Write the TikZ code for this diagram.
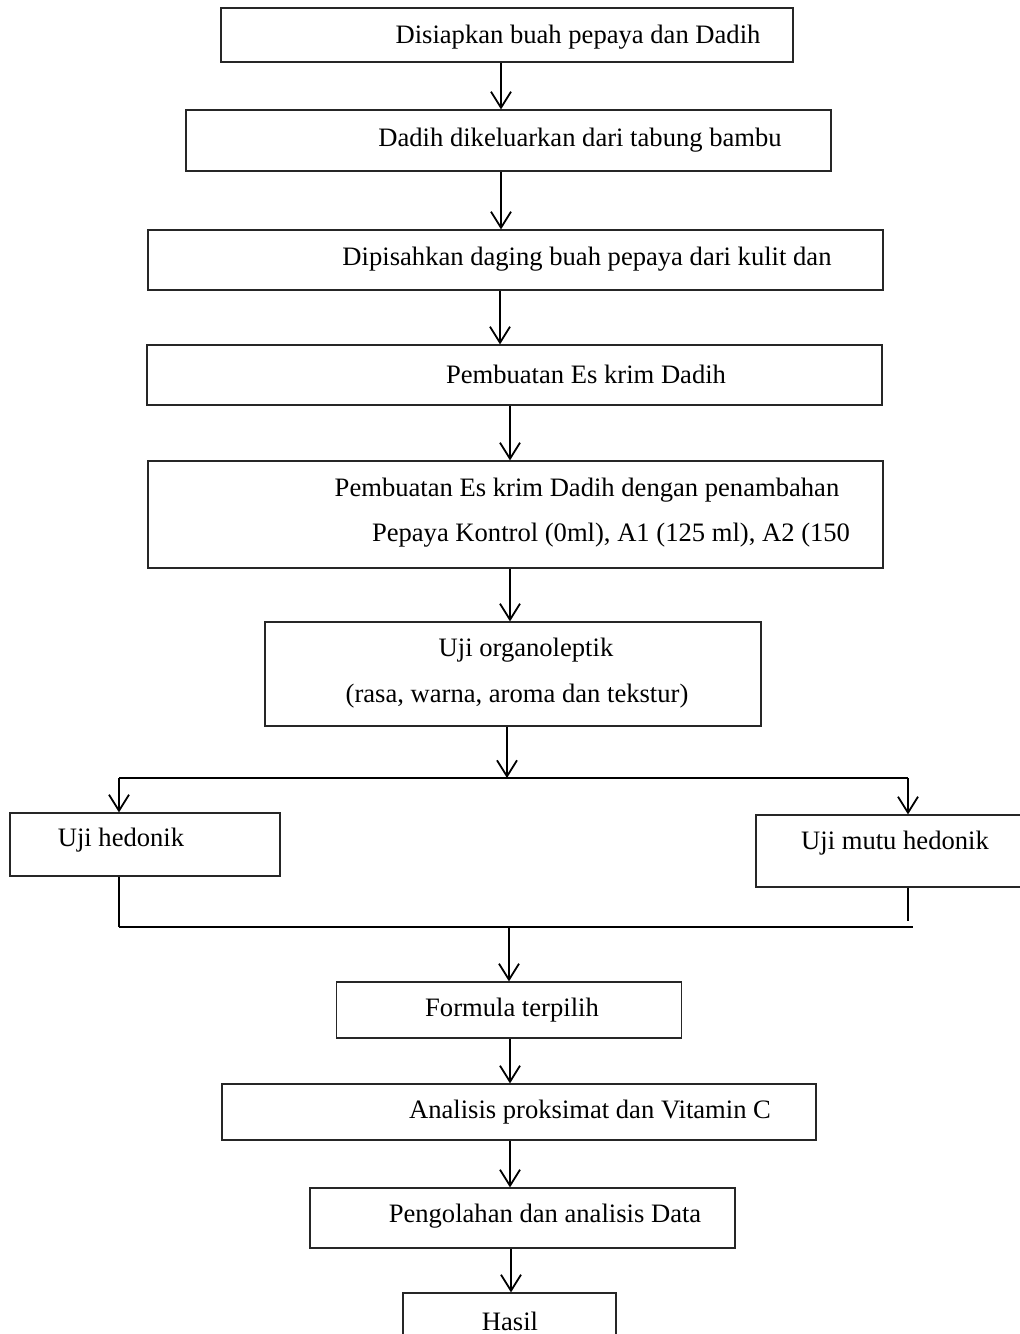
\documentclass[tikz,border=0pt]{standalone}
\usepackage{fontspec}
\setmainfont{Liberation Serif}
\usetikzlibrary{arrows.meta}
\tikzset{
  flow/box/.style={draw=black!85, line width=.6pt, inner sep=0pt},
  flow/text/.style={font=\fontsize{13.3}{16}\selectfont, inner sep=0pt, yshift=-1pt},
  flow/arrow/.style={-{Straight Barb[length=8pt,width=10pt]}, line width=.9pt},
  flow/line/.style={line width=.6pt},
  flow/rail/.style={line width=1.1pt}
}

\begin{document}
\begin{tikzpicture}[x=.5pt,y=-.5pt]
  \useasboundingbox (0,0) rectangle (1020,1334);
  % boxes
  \node[flow/box,minimum width=286pt,minimum height=27pt] (b1) at (507,35) {};
  \node[flow/box,minimum width=322.5pt,minimum height=30.5pt] (b2) at (508.5,140.5) {};
  \node[flow/box,minimum width=367.5pt,minimum height=30pt] (b3) at (515.5,260) {};
  \node[flow/box,minimum width=367.5pt,minimum height=30pt] (b4) at (514.5,375) {};
  \node[flow/box,minimum width=367.5pt,minimum height=53.5pt] (b5) at (515.5,514.5) {};
  \node[flow/box,minimum width=248pt,minimum height=52pt] (b6) at (513,674) {};
  \node[flow/box,minimum width=135pt,minimum height=31.5pt] (b7) at (145,844.5) {};
  \node[flow/box,minimum width=132.5pt,minimum height=36pt] (b8) at (888.5,851) {};
  \node[flow/box,minimum width=172.5pt,minimum height=28pt] (b9) at (509,1010) {};
  \node[flow/box,minimum width=297pt,minimum height=28pt] (b10) at (519,1112) {};
  \node[flow/box,minimum width=212.5pt,minimum height=30pt] (b11) at (522.5,1218) {};
  \node[flow/box,minimum width=106.5pt,minimum height=33.5pt] (b12) at (509.5,1326.5) {};
  % texts
  \node[flow/text] (t1) at (578,35) {Disiapkan buah pepaya dan Dadih};
  \node[flow/text] (t2) at (580,138) {Dadih dikeluarkan dari tabung bambu};
  \node[flow/text] (t3) at (587,257) {Dipisahkan daging buah pepaya dari kulit dan};
  \node[flow/text] (t4) at (586,372) {Pembuatan Es krim Dadih};
  \node[flow/text] (t5a) at (587,488) {Pembuatan Es krim Dadih dengan penambahan};
  \node[flow/text] (t5b) at (611,533) {Pepaya Kontrol (0ml), A1 (125 ml), A2 (150};
  \node[flow/text] (t6a) at (526,648) {Uji organoleptik};
  \node[flow/text] (t6b) at (517,694) {(rasa, warna, aroma dan tekstur)};
  \node[flow/text] (t7) at (121,838) {Uji hedonik};
  \node[flow/text] (t8) at (895,841) {Uji mutu hedonik};
  \node[flow/text] (t9) at (512,1008) {Formula terpilih};
  \node[flow/text] (t10) at (590,1110) {Analisis proksimat dan Vitamin C};
  \node[flow/text] (t11) at (545,1214) {Pengolahan dan analisis Data};
  \node[flow/text] (t12) at (510,1319) {Hasil};
  % straight steps
  \draw[flow/arrow] ([xshift=-3pt]b1.south) -- ([xshift=-3pt]b1.south |- b2.north);
  \draw[flow/arrow] ([xshift=-3.75pt]b2.south) -- ([xshift=-3.75pt]b2.south |- b3.north);
  \draw[flow/arrow] ([xshift=-7.75pt]b3.south) -- ([xshift=-7.75pt]b3.south |- b4.north);
  \draw[flow/arrow] ([xshift=-2.25pt]b4.south) -- ([xshift=-2.25pt]b4.south |- b5.north);
  \draw[flow/arrow] ([xshift=-2.75pt]b5.south) -- ([xshift=-2.75pt]b5.south |- b6.north);
  % split into the two tests
  \coordinate (sL) at (119,778);
  \coordinate (sR) at (908,778);
  \draw[flow/rail] (sL) -- (sR);
  \draw[flow/arrow] ([xshift=-3pt]b6.south) -- ([xshift=-3pt]b6.south |- sL);
  \draw[flow/arrow] (sL) -- (sL |- b7.north);
  \draw[flow/arrow] (sR) -- (sR |- b8.north);
  % join again
  \coordinate (jL) at (119,927);
  \coordinate (jR) at (913,927);
  \draw[flow/line] (b7.south -| jL) -- (jL);
  \draw[flow/rail] (jL) -- (jR);
  \draw[flow/line] (b8.south -| sR) -- ++(0,33);
  \draw[flow/arrow] (b9.north |- jL) -- (b9.north);
  \draw[flow/arrow] ([xshift=.5pt]b9.south) -- ([xshift=.5pt]b9.south |- b10.north);
  \draw[flow/arrow] ([xshift=-4.5pt]b10.south) -- ([xshift=-4.5pt]b10.south |- b11.north);
  \draw[flow/arrow] ([xshift=-5.75pt]b11.south) -- ([xshift=-5.75pt]b11.south |- b12.north);
\end{tikzpicture}
\end{document}
